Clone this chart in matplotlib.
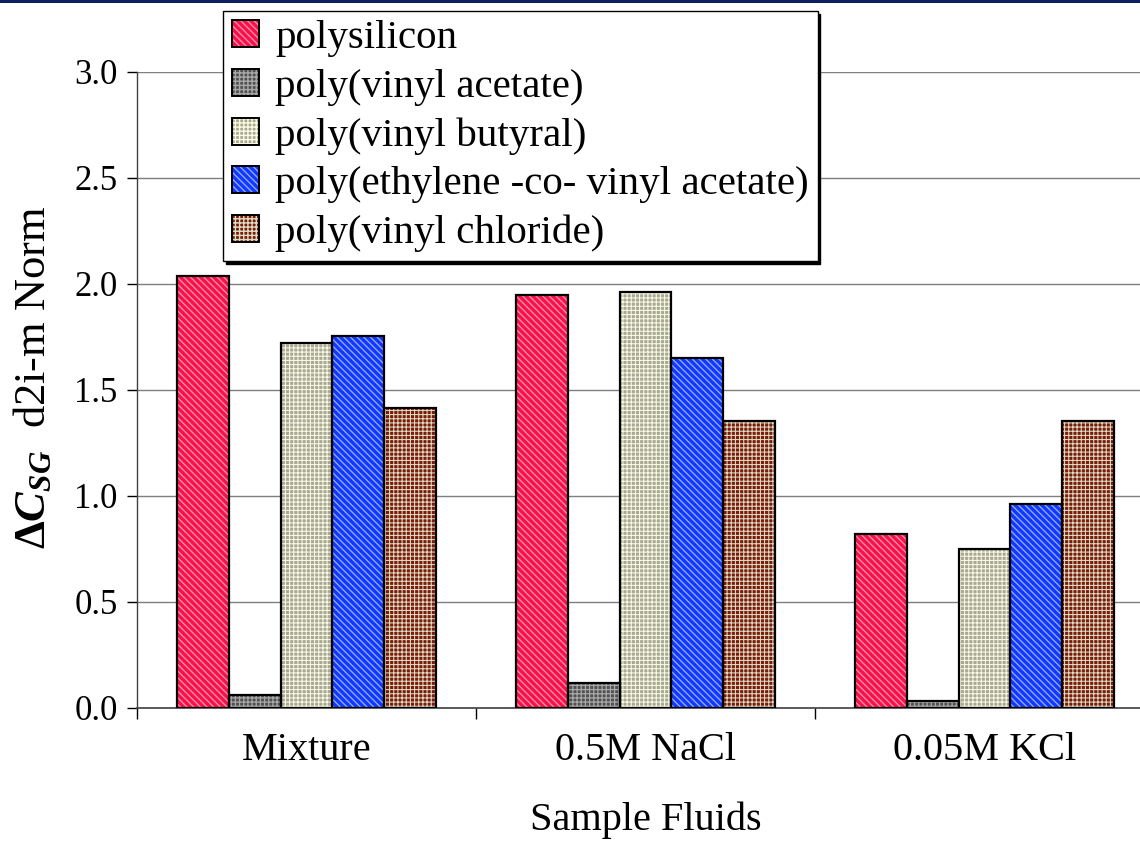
import matplotlib
matplotlib.use("Agg")
import matplotlib.pyplot as plt
from matplotlib.patches import Rectangle, Patch
import numpy as np

# Data
fluids = ["Mixture", "0.5M NaCl", "0.05M KCl"]
materials = [
    "polysilicon",
    "poly(vinyl acetate)",
    "poly(vinyl butyral)",
    "poly(ethylene -co- vinyl acetate)",
    "poly(vinyl chloride)",
]
polysilicon = [2.04, 1.95, 0.82]
pva = [0.06, 0.12, 0.035]
pvb = [1.72, 1.96, 0.75]
peva = [1.755, 1.65, 0.96]
pvc = [1.415, 1.355, 1.355]
series = [polysilicon, pva, pvb, peva, pvc]
yticks = [0.0, 0.5, 1.0, 1.5, 2.0, 2.5, 3.0]

# Fill styles: base colour, hatch pattern, hatch colour, hatch line width
styles = [
    ("#F8104A", "\\\\\\\\\\", "#FF8CA8", 1.0),
    ("#505050", "++++", "#A8A8A8", 0.9),
    ("#A8A898", "++++", "#FAFAE0", 0.75),
    ("#1038FF", "\\\\\\\\\\", "#90A8FF", 1.0),
    ("#7C1A0C", "++++", "#DCDEC4", 0.75),
]

plt.rcParams["font.family"] = ["Liberation Serif", "DejaVu Serif"]
plt.rcParams["mathtext.fontset"] = "custom"
plt.rcParams["mathtext.rm"] = "Liberation Serif"
plt.rcParams["mathtext.it"] = "Liberation Serif:italic"
plt.rcParams["mathtext.bf"] = "Liberation Serif:bold"
plt.rcParams["mathtext.bfit"] = "Liberation Serif:italic:bold"

W, H = 1140, 841
fig = plt.figure(figsize=(W / 100, H / 100), dpi=100)
ax = fig.add_axes([137 / W, 1 - 708 / H, 1017 / W, 636 / H])

n = len(series)
bw = 0.153
x = np.arange(len(fluids)) + 0.5
handles = []
for i, (vals, (fc, hatch, hc, hlw)) in enumerate(zip(series, styles)):
    pos = x + (i - (n - 1) / 2) * bw
    with plt.rc_context({"hatch.linewidth": hlw}):
        ax.bar(pos, vals, width=bw, facecolor=fc, hatch=hatch, edgecolor=hc,
               linewidth=0, zorder=3)
        swatch = Patch(facecolor=fc, hatch=hatch, edgecolor=hc, linewidth=0)
    ax.bar(pos, vals, width=bw, fill=False, edgecolor="black",
           linewidth=1.6, zorder=4)
    handles.append((swatch, Patch(fill=False, edgecolor="black", linewidth=1.4)))

ax.set_xlim(0, 3)
ax.set_ylim(0, 3)
ax.set_yticks(yticks)
ax.set_yticklabels([f"{v:.1f}" for v in yticks], fontsize=25)
ax.tick_params(axis="y", direction="out", length=7, width=1, pad=7, colors="black")
ax.yaxis.grid(True, color="#7f7f7f", linewidth=1.0, zorder=0)
ax.set_axisbelow(True)

ax.set_xticks([0, 1, 2, 3])
ax.set_xticklabels([])
ax.set_xticks(x, minor=True)
ax.set_xticklabels(fluids, minor=True, fontsize=29)
ax.tick_params(axis="x", which="major", direction="out", length=8, width=1)
ax.tick_params(axis="x", which="minor", length=0, pad=17)

for s in ("top", "right"):
    ax.spines[s].set_visible(False)
ax.spines["left"].set_color("#404040")
ax.spines["bottom"].set_color("#404040")
ax.spines["left"].set_linewidth(1.0)
ax.spines["bottom"].set_linewidth(1.2)

ax.set_xlabel("Sample Fluids", fontsize=29, labelpad=24)
ax.set_ylabel(r"$\mathbf{\Delta}\mathbfit{C}_{\mathbfit{SG}}$  d2i-m Norm",
              fontsize=32, labelpad=12)
ax.yaxis.set_label_coords(-0.082, 0.52)

leg = fig.legend(handles, materials, loc="upper left",
                 bbox_to_anchor=(223 / W, 1 - 11 / H), bbox_transform=fig.transFigure,
                 fontsize=29.5, frameon=True, fancybox=False,
                 shadow={"color": "black", "alpha": 1},
                 handlelength=0.65, handleheight=0.65, handletextpad=0.4,
                 labelspacing=0.28, borderpad=0.22, borderaxespad=0)
leg.get_frame().set_edgecolor("black")
leg.get_frame().set_linewidth(1.0)

# Navy rule across the top edge
fig.add_artist(Rectangle((0, 1 - 3 / H), 1, 3 / H, transform=fig.transFigure,
                         facecolor="#0C1F5E", edgecolor="none"))

fig.savefig("out.png", dpi=100)
